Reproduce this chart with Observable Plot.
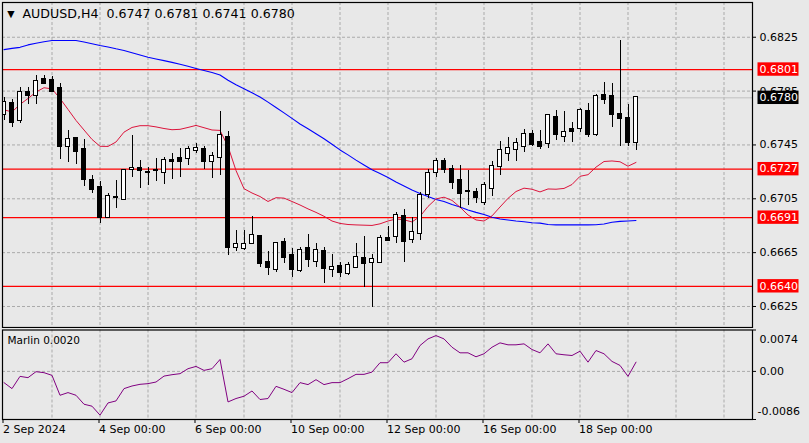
<!DOCTYPE html>
<html><head><meta charset="utf-8">
<script src="https://cdn.jsdelivr.net/npm/d3@7"></script>
<script src="https://cdn.jsdelivr.net/npm/@observablehq/plot@0.6"></script>
<style>
html,body{margin:0;padding:0;background:#e8e8e8;}
#wrap{width:809px;height:443px;overflow:hidden;background:#e8e8e8;}
#wrap svg{display:block;}
</style></head><body><div id="wrap"></div>
<script>
// ---- data (AUDUSD H4, 2–19 Sep 2024) ----
const opens = [0.67676,0.67760,0.67632,0.67840,0.67817,0.67934,0.67929,0.67869,0.67436,0.67498,
0.67414,0.67186,0.67134,0.66914,0.67056,0.67043,0.67268,0.67275,0.67246,0.67257,
0.67243,0.67332,0.67350,0.67347,0.67409,0.67414,0.67325,0.67355,0.67503,0.66686,
0.66679,0.66716,0.66770,0.66577,0.66523,0.66726,0.66629,0.66518,0.66679,0.66582,
0.66657,0.66523,0.66547,0.66493,0.66542,0.66605,0.66575,0.66579,0.66753,0.66770,
0.66919,0.66746,0.66795,0.67082,0.67243,0.67330,0.67266,0.67186,0.67107,0.67095,
0.67025,0.67129,0.67292,0.67389,0.67414,0.67441,0.67526,0.67466,0.67459,0.67654,
0.67515,0.67563,0.67575,0.67699,0.67526,0.67817,0.67810,0.67679,0.67644,0.67470];
const highs = [0.67803,0.67786,0.67875,0.67875,0.67966,0.67966,0.67955,0.67909,0.67558,0.67502,
0.67493,0.67223,0.67177,0.67092,0.67186,0.67264,0.67520,0.67335,0.67285,0.67346,
0.67359,0.67387,0.67424,0.67439,0.67459,0.67439,0.67394,0.67701,0.67552,0.66815,
0.66815,0.66919,0.66774,0.66657,0.66728,0.66753,0.66679,0.66686,0.66785,0.66721,
0.66691,0.66637,0.66579,0.66579,0.66716,0.66770,0.66637,0.66775,0.66845,0.66949,
0.66969,0.66914,0.67099,0.67270,0.67347,0.67347,0.67298,0.67295,0.67260,0.67125,
0.67174,0.67327,0.67476,0.67506,0.67496,0.67565,0.67558,0.67558,0.67679,0.67704,
0.67699,0.67619,0.67723,0.67756,0.67823,0.67916,0.67904,0.68226,0.67748,0.67810];
const lows = [0.67632,0.67582,0.67612,0.67747,0.67751,0.67907,0.67843,0.67340,0.67322,0.67303,
0.67142,0.67087,0.66869,0.66908,0.66980,0.67038,0.67208,0.67130,0.67149,0.67179,
0.67153,0.67194,0.67211,0.67295,0.67389,0.67266,0.67201,0.67226,0.66627,0.66661,
0.66666,0.66715,0.66542,0.66481,0.66505,0.66568,0.66464,0.66505,0.66542,0.66542,
0.66423,0.66468,0.66464,0.66478,0.66540,0.66389,0.66245,0.66577,0.66735,0.66721,
0.66579,0.66721,0.66741,0.67050,0.67206,0.67236,0.67117,0.66976,0.67001,0.67018,
0.67001,0.67070,0.67223,0.67327,0.67327,0.67392,0.67436,0.67416,0.67422,0.67483,
0.67466,0.67466,0.67545,0.67508,0.67515,0.67753,0.67580,0.67441,0.67441,0.67410];
const closes = [0.67763,0.67619,0.67842,0.67817,0.67921,0.67909,0.67849,0.67439,0.67491,0.67404,
0.67196,0.67122,0.66914,0.67067,0.67060,0.67260,0.67275,0.67257,0.67242,0.67260,
0.67335,0.67324,0.67330,0.67414,0.67424,0.67330,0.67364,0.67518,0.66691,0.66711,
0.66711,0.66778,0.66568,0.66538,0.66718,0.66612,0.66523,0.66666,0.66597,0.66666,
0.66533,0.66538,0.66505,0.66555,0.66612,0.66568,0.66597,0.66753,0.66741,0.66924,
0.66735,0.66802,0.67073,0.67236,0.67325,0.67270,0.67174,0.67092,0.67107,0.67058,
0.67149,0.67288,0.67407,0.67422,0.67459,0.67530,0.67456,0.67441,0.67669,0.67526,
0.67545,0.67550,0.67704,0.67526,0.67810,0.67788,0.67679,0.67649,0.67471,0.67800];
const maFast = [0.67711,0.67695,0.67751,0.67795,0.67843,0.67875,0.67866,0.67795,0.67714,0.67632,
0.67561,0.67491,0.67440,0.67439,0.67472,0.67545,0.67580,0.67593,0.67593,0.67584,
0.67572,0.67563,0.67566,0.67580,0.67595,0.67578,0.67561,0.67558,0.67439,0.67260,
0.67125,0.67093,0.67067,0.67030,0.67058,0.67055,0.67030,0.67004,0.66975,0.66949,
0.66920,0.66885,0.66867,0.66859,0.66856,0.66854,0.66852,0.66864,0.66885,0.66900,
0.66894,0.66878,0.66919,0.66993,0.67049,0.67062,0.67038,0.66988,0.66930,0.66893,
0.66885,0.66923,0.66989,0.67053,0.67104,0.67129,0.67121,0.67101,0.67123,0.67121,
0.67127,0.67156,0.67217,0.67229,0.67285,0.67327,0.67331,0.67325,0.67292,0.67320];
const maSlow = [0.68158,0.68167,0.68175,0.68193,0.68205,0.68217,0.68226,0.68226,0.68226,0.68226,
0.68215,0.68202,0.68189,0.68178,0.68164,0.68152,0.68135,0.68118,0.68101,0.68088,
0.68076,0.68063,0.68049,0.68034,0.68018,0.68003,0.67988,0.67970,0.67931,0.67897,
0.67867,0.67838,0.67806,0.67768,0.67728,0.67688,0.67647,0.67606,0.67570,0.67533,
0.67496,0.67455,0.67413,0.67376,0.67337,0.67301,0.67266,0.67238,0.67208,0.67175,
0.67145,0.67116,0.67090,0.67067,0.67045,0.67030,0.67008,0.66989,0.66967,0.66949,
0.66934,0.66913,0.66900,0.66893,0.66885,0.66879,0.66872,0.66869,0.66859,0.66856,
0.66856,0.66856,0.66856,0.66856,0.66857,0.66863,0.66876,0.66882,0.66885,0.66889];
const marlin = [-0.00201,-0.00308,-0.00089,-0.00112,-0.00005,-0.00023,-0.00071,-0.00427,-0.00379,-0.00427,
-0.00587,-0.00622,-0.00782,-0.00564,-0.00528,-0.00308,-0.00261,-0.00231,-0.00219,-0.00190,
-0.00084,-0.00059,-0.00041,0.00048,0.00089,0.00018,0.00048,0.00213,-0.00546,-0.00485,
-0.00444,-0.00350,-0.00503,-0.00485,-0.00267,-0.00320,-0.00379,-0.00201,-0.00236,-0.00148,
-0.00236,-0.00201,-0.00201,-0.00130,-0.00053,-0.00053,-0.00012,0.00155,0.00155,0.00315,
0.00165,0.00226,0.00462,0.00581,0.00640,0.00581,0.00432,0.00332,0.00332,0.00261,
0.00315,0.00432,0.00510,0.00475,0.00475,0.00492,0.00391,0.00332,0.00492,0.00315,
0.00297,0.00284,0.00361,0.00165,0.00373,0.00315,0.00178,0.00107,-0.00089,0.00165];
const priceTicks = [0.6825, 0.6785, 0.6745, 0.6705, 0.6665, 0.6625];
const levels = [0.6801, 0.6727, 0.6691, 0.6640];
const lastPrice = 0.6780;
const dateTickBars = [0, 12, 24, 36, 48, 60, 72];
const dateLabels = ["2 Sep 2024", "4 Sep 00:00", "6 Sep 00:00", "10 Sep 00:00", "12 Sep 00:00", "16 Sep 00:00", "18 Sep 00:00"];
const dayGridBars = [6,12,18,24,30,36,42,48,54,60,66,72,78,84,90];
const marlinTicks = [0.0074, 0, -0.0086];
const marlinTickLabels = ["0.0074", "0.00", "-0.0086"];
const titleText = "AUDUSD,H4  0.6747 0.6781 0.6741 0.6780";
const marlinTitle = "Marlin 0.0020";

// ---- build ----
const FONT = "'DejaVu Sans', Verdana, sans-serif";
const BG = "#e8e8e8";
const W = 809;
const xDomain = [-0.1875, 93.5625];
const bars = opens.map((o, i) => ({i, open: o, high: highs[i], low: lows[i], close: closes[i]}));
const bull = bars.filter(d => d.close >= d.open);
const bear = bars.filter(d => d.close < d.open);
const fast = maFast.map((v, i) => ({i, v}));
const slow = maSlow.map((v, i) => ({i, v}));
const mData = marlin.map((v, i) => ({i, v}));
const grid = {stroke: "#aaaaaa", strokeOpacity: 1, strokeDasharray: "3,2"};
const bodyOpt = (fill) => ({x1: d => d.i - 0.25, x2: d => d.i + 0.25, y1: "open", y2: "close",
  fill, stroke: "black", strokeWidth: 1, insetTop: -0.5, insetBottom: -0.5, clip: true, shapeRendering: "crispEdges"});

const main = Plot.plot({
  width: W, height: 328, marginTop: 2, marginBottom: 1, marginLeft: 2, marginRight: 57,
  style: {background: BG, fontFamily: FONT, fontSize: "11px", color: "black"},
  x: {domain: xDomain, axis: null},
  y: {domain: [0.66094, 0.68508], axis: null},
  marks: [
    Plot.ruleX(dayGridBars, grid),
    Plot.ruleY(priceTicks, grid),
    Plot.ruleY([lastPrice], {stroke: "#c0c0c0", strokeWidth: 1}),
    Plot.ruleY(levels, {stroke: "#ff0000", strokeWidth: 1.2}),
    Plot.line(slow, {x: "i", y: "v", stroke: "#0000ff", strokeWidth: 1.1, clip: true}),
    Plot.line(fast, {x: "i", y: "v", stroke: "crimson", strokeWidth: 1, clip: true}),
    Plot.ruleX(bars, {x: "i", y1: "low", y2: "high", stroke: "black", strokeWidth: 1, clip: true, shapeRendering: "crispEdges"}),
    Plot.rect(bull, bodyOpt("white")),
    Plot.rect(bear, bodyOpt("black")),
    Plot.frame({stroke: "black", strokeWidth: 1.2}),
    Plot.axisY(priceTicks, {anchor: "right", label: null, tickSize: 3, tickPadding: 4, tickFormat: d3.format(".4f"), fontSize: 11}),
    Plot.text(["▼"], {text: d => d, frameAnchor: "top-left", dx: 8.5, dy: 11, fontSize: 9.5, textAnchor: "middle", lineAnchor: "middle"}),
    Plot.text([titleText], {text: d => d, frameAnchor: "top-left", dx: 20, dy: 11, textAnchor: "start", lineAnchor: "middle", fontSize: 12.6})
  ]
});

// price label boxes on the right axis
const ys = main.scale("y");
const sel = d3.select(main);
const boxes = levels.map(v => ({v, color: "#ff0000"})).concat([{v: lastPrice, color: "#000000"}]);
for (const b of boxes) {
  const cy = ys.apply(b.v);
  sel.append("rect").attr("x", 757.5).attr("y", cy - 6.7).attr("width", 41).attr("height", 13.4).attr("fill", b.color);
  sel.append("text").attr("x", 759.5).attr("y", cy).attr("dy", "0.34em").attr("text-anchor", "start")
    .attr("fill", "white").attr("font-family", FONT).attr("font-size", 11).text(d3.format(".4f")(b.v));
}

const ind = Plot.plot({
  width: W, height: 115, marginTop: 1.5, marginBottom: 24, marginLeft: 2, marginRight: 57,
  style: {background: BG, fontFamily: FONT, fontSize: "11px", color: "black"},
  x: {domain: xDomain, axis: null},
  y: {domain: [-0.0086, 0.0074], axis: null},
  marks: [
    Plot.ruleX(dayGridBars, grid),
    Plot.ruleY([0], grid),
    Plot.line(mData, {x: "i", y: "v", stroke: "#800080", strokeWidth: 1, clip: true}),
    Plot.frame({stroke: "black", strokeWidth: 1.2}),
    Plot.axisX(dateTickBars, {anchor: "bottom", label: null, tickSize: 4, tickPadding: 2, textAnchor: "start", dx: -1, fontSize: 11,
      tickFormat: d => dateLabels[dateTickBars.indexOf(d)]}),
    Plot.axisY(marlinTicks, {anchor: "right", label: null, tickSize: 3, tickFormat: () => ""}),
    Plot.text([0], {y: d => marlinTicks[d], text: d => marlinTickLabels[d], frameAnchor: "right", dx: 7, dy: 9, textAnchor: "start", lineAnchor: "middle"}),
    Plot.text([1], {y: d => marlinTicks[d], text: d => marlinTickLabels[d], frameAnchor: "right", dx: 7, textAnchor: "start", lineAnchor: "middle"}),
    Plot.text([2], {y: d => marlinTicks[d], text: d => marlinTickLabels[d], frameAnchor: "right", dx: 5, dy: -8, textAnchor: "start", lineAnchor: "middle"}),
    Plot.text([marlinTitle], {text: d => d, frameAnchor: "top-left", dx: 5, dy: 10.5, textAnchor: "start", lineAnchor: "middle", fontSize: 10.5})
  ]
});

const wrap = document.getElementById("wrap");
wrap.appendChild(main);
wrap.appendChild(ind);
</script></body></html>
